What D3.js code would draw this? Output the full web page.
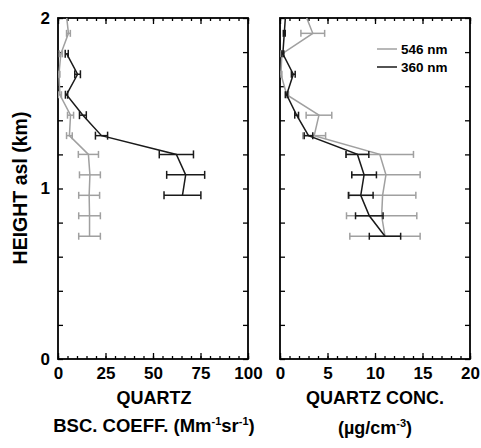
<!DOCTYPE html>
<html lang="en">
<head>
<meta charset="utf-8">
<title>Quartz profiles</title>
<script src="https://d3js.org/d3.v7.min.js"></script>
<style>
  body { margin: 0; background: #fff; }
  text { font-family: "Liberation Sans", Arial, sans-serif; font-weight: bold; fill: #000; }
  .tick text { font-size: 17px; }
  .axis path { display: none; }
  .axis line { stroke: #000; stroke-width: 1.3; }
</style>
</head>
<body>
<div id="chart"></div>
<script>
// heights (km asl) of the profile bins
const heights = [2.03, 1.91, 1.79, 1.67, 1.55, 1.43, 1.31, 1.20, 1.08, 0.96, 0.84, 0.72];

// backscatter coefficient, quartz (Mm-1 sr-1)
const bsc546 = [4.3, 5.5, 1.5, 0.5, 1.0, 6.6, 6.0, 16.0, 16.8, 16.4, 16.6, 16.6];
const bsc546Err = [0, 1.0, 0.8, 0.5, 0.8, 1.6, 1.5, 5.3, 5.5, 5.5, 5.7, 5.7];
const bsc360 = [null, null, 4.6, 10.3, 4.5, 13.1, 22.9, 62.3, 67.2, 65.5, null, null];
const bsc360Err = [null, null, 0.8, 1.5, 0.6, 1.8, 3.2, 9.0, 10.0, 9.7, null, null];

// quartz concentration (ug/cm3)
const conc546 = [2.6, 3.45, 0.2, 0.1, 0.7, 4.1, 3.6, 10.5, 11.15, 10.8, 10.7, 11.05];
const conc546Err = [0, 1.25, 0.1, 0.1, 0.2, 1.35, 1.2, 3.55, 3.6, 3.5, 3.7, 3.7];
const conc360 = [0.6, 0.45, 0.3, 1.4, 0.7, 1.75, 3.0, 8.15, 8.85, 8.5, 9.4, 11.05];
const conc360Err = [0, 0.1, 0.1, 0.2, 0.1, 0.2, 0.45, 1.2, 1.3, 1.3, 1.45, 1.65];

const yTicks = [0, 0.2, 0.4, 0.6, 0.8, 1, 1.2, 1.4, 1.6, 1.8, 2];
const yLabels = [0, 1, 2];
const bscTicks = [0, 25, 50, 75, 100];
const concTicks = [0, 5, 10, 15, 20];
const legendNames = ["546 nm", "360 nm"];

const grey = "#a0a0a0", dark = "#1a1a1a";

const width = 481, height = 448;
const plotTop = 18, plotBottom = 359;

const svg = d3.select("#chart").append("svg")
    .attr("width", width).attr("height", height);

const y = d3.scaleLinear().domain([0, 2]).range([plotBottom, plotTop]);

function series(vals, errs) {
  return heights.map((h, i) => ({h: h, v: vals[i], e: errs[i]})).filter(d => d.v != null);
}

function panel(id, x0, x1, xMax, majors, minorStep, data, showYLabels) {
  const x = d3.scaleLinear().domain([0, xMax]).range([x0, x1]);
  const minors = d3.range(0, xMax / minorStep + 1).map(i => i * minorStep);
  const g = svg.append("g");

  svg.append("clipPath").attr("id", id)
    .append("rect").attr("x", x0).attr("y", plotTop).attr("width", x1 - x0).attr("height", plotBottom - plotTop);

  // bottom axis
  g.append("g").attr("class", "axis").attr("transform", `translate(0,${plotBottom})`)
    .call(d3.axisBottom(x).tickValues(minors).tickSize(-3).tickFormat(""));
  g.append("g").attr("class", "axis").attr("transform", `translate(0,${plotBottom})`)
    .call(d3.axisBottom(x).tickValues(majors).tickSize(-6).tickPadding(8).tickFormat(d3.format("d")));
  // top axis
  g.append("g").attr("class", "axis").attr("transform", `translate(0,${plotTop})`)
    .call(d3.axisTop(x).tickValues(minors).tickSize(-3).tickFormat(""));
  g.append("g").attr("class", "axis").attr("transform", `translate(0,${plotTop})`)
    .call(d3.axisTop(x).tickValues(majors).tickSize(-6).tickFormat(""));
  // left / right
  g.append("g").attr("class", "axis").attr("transform", `translate(${x0},0)`)
    .call(d3.axisLeft(y).tickValues(yTicks).tickSize(-5).tickPadding(8)
      .tickFormat(d => showYLabels && yLabels.includes(d) ? d : ""));
  g.append("g").attr("class", "axis").attr("transform", `translate(${x1},0)`)
    .call(d3.axisRight(y).tickValues(yTicks).tickSize(-5).tickFormat(""));

  g.append("rect").attr("x", x0).attr("y", plotTop).attr("width", x1 - x0).attr("height", plotBottom - plotTop)
    .attr("fill", "none").attr("stroke", "#000").attr("stroke-width", 1.8);

  const plot = g.append("g").attr("clip-path", `url(#${id})`);
  data.forEach(s => {
    const pts = series(s.vals, s.errs);
    const cap = s.cap;
    const eb = plot.append("g").attr("stroke", s.color).attr("stroke-width", 1.5).attr("fill", "none");
    pts.filter(d => d.e > 0).forEach(d => {
      const yy = y(d.h);
      eb.append("line").attr("x1", x(d.v - d.e)).attr("x2", x(d.v + d.e)).attr("y1", yy).attr("y2", yy);
      eb.append("line").attr("x1", x(d.v - d.e)).attr("x2", x(d.v - d.e)).attr("y1", yy - cap).attr("y2", yy + cap);
      eb.append("line").attr("x1", x(d.v + d.e)).attr("x2", x(d.v + d.e)).attr("y1", yy - cap).attr("y2", yy + cap);
    });
    plot.append("path").datum(pts)
      .attr("fill", "none").attr("stroke", s.color).attr("stroke-width", 1.5)
      .attr("d", d3.line().x(d => x(d.v)).y(d => y(d.h)));
  });
  return x;
}

panel("clipA", 58, 248, 100, bscTicks, 5, [
  {vals: bsc546, errs: bsc546Err, color: grey, cap: 3.5},
  {vals: bsc360, errs: bsc360Err, color: dark, cap: 4}
], true);

panel("clipB", 280, 470, 20, concTicks, 1, [
  {vals: conc546, errs: conc546Err, color: grey, cap: 3.5},
  {vals: conc360, errs: conc360Err, color: dark, cap: 3.5}
], false);

// legend
[grey, dark].forEach((c, i) => {
  const ly = 49 + i * 18;
  svg.append("line").attr("x1", 377).attr("x2", 397).attr("y1", ly).attr("y2", ly)
    .attr("stroke", c).attr("stroke-width", 1.5);
  svg.append("text").attr("x", 401).attr("y", ly + 5).style("font-size", "13.5px").text(legendNames[i]);
});

// axis titles
svg.append("text").attr("transform", "translate(27,188) rotate(-90)")
  .attr("text-anchor", "middle").style("font-size", "19.5px").text("HEIGHT asl (km)");

svg.append("text").attr("x", 154).attr("y", 404).attr("text-anchor", "middle")
  .style("font-size", "18px").text("QUARTZ");
const t1 = svg.append("text").attr("x", 154).attr("y", 432).attr("text-anchor", "middle")
  .style("font-size", "18.5px");
t1.append("tspan").text("BSC. COEFF. (Mm");
t1.append("tspan").attr("dy", -7).style("font-size", "11px").text("-1");
t1.append("tspan").attr("dy", 7).text("sr");
t1.append("tspan").attr("dy", -7).style("font-size", "11px").text("-1");
t1.append("tspan").attr("dy", 7).text(")");

svg.append("text").attr("x", 375).attr("y", 404).attr("text-anchor", "middle")
  .style("font-size", "18px").text("QUARTZ CONC.");
const t2 = svg.append("text").attr("x", 375).attr("y", 434).attr("text-anchor", "middle")
  .style("font-size", "18px");
t2.append("tspan").text("(\u00b5g/cm");
t2.append("tspan").attr("dy", -7).style("font-size", "11px").text("-3");
t2.append("tspan").attr("dy", 7).text(")");
</script>
</body>
</html>
